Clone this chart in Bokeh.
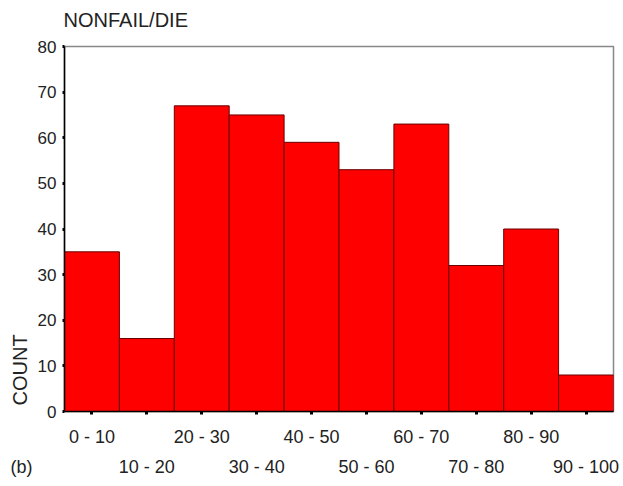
from bokeh.plotting import figure
from bokeh.models import FixedTicker, LinearAxis, Title, Label, Range1d
from bokeh.embed import file_html
from bokeh.resources import INLINE

categories = ["0 - 10", "10 - 20", "20 - 30", "30 - 40", "40 - 50",
              "50 - 60", "60 - 70", "70 - 80", "80 - 90", "90 - 100"]
lefts = [0, 10, 20, 30, 40, 50, 60, 70, 80, 90]
counts = [35, 16, 67, 65, 59, 53, 63, 32, 40, 8]
y_ticks = [0, 10, 20, 30, 40, 50, 60, 70, 80]

FONT = "Liberation Sans"
TXT = "#222222"

p = figure(width=621, height=484, output_backend="svg", toolbar_location=None,
           x_range=Range1d(0, 100), y_range=Range1d(0, 80),
           min_border_left=64, min_border_right=8, min_border_top=46,
           min_border_bottom=73, x_axis_location=None, y_axis_location=None)
p.xgrid.visible = False
p.ygrid.visible = False
p.outline_line_color = "#888888"
p.outline_line_width = 1.5
p.background_fill_color = "white"
p.border_fill_color = "white"

rights = [l + 10 for l in lefts]
p.quad(left=lefts, right=rights, bottom=0, top=counts,
       fill_color="#ff0000", line_color="#6a0000", line_width=1)

centers = [l + 5 for l in lefts]

# y axis
ya = LinearAxis(ticker=FixedTicker(ticks=y_ticks))
ya.axis_line_color = "black"
ya.axis_line_width = 1.5
ya.major_tick_line_color = "black"
ya.major_tick_line_width = 3
ya.major_tick_out = 2
ya.major_tick_in = 0
ya.minor_tick_line_color = None
ya.major_label_text_font = FONT
ya.major_label_text_font_size = "17px"
ya.major_label_text_color = TXT
ya.major_label_standoff = 6
p.add_layout(ya, "left")

# x axis row 1
xa1 = LinearAxis(ticker=FixedTicker(ticks=centers))
xa1.major_label_overrides = {c: (categories[i] if i % 2 == 0 else "") for i, c in enumerate(centers)}
xa1.axis_line_color = "black"
xa1.axis_line_width = 1.5
xa1.major_tick_line_color = "black"
xa1.major_tick_line_width = 3
xa1.major_tick_out = 3
xa1.major_tick_in = 0
xa1.minor_tick_line_color = None
xa1.major_label_text_font = FONT
xa1.major_label_text_font_size = "18px"
xa1.major_label_text_color = TXT
xa1.major_label_standoff = 12
p.add_layout(xa1, "below")

# x axis row 2
xa2 = LinearAxis(ticker=FixedTicker(ticks=centers))
xa2.major_label_overrides = {c: (categories[i] if i % 2 == 1 else "") for i, c in enumerate(centers)}
xa2.axis_line_color = None
xa2.major_tick_line_color = None
xa2.minor_tick_line_color = None
xa2.major_label_text_font = FONT
xa2.major_label_text_font_size = "18px"
xa2.major_label_text_color = TXT
xa2.major_label_standoff = 1
p.add_layout(xa2, "below")

# panel label nearest the frame: its box bottom is the frame top
p.add_layout(Label(x=-54, y=-420, x_units="screen", y_units="screen", text="(b)",
                   text_font=FONT, text_font_size="18px", text_color=TXT,
                   text_baseline="middle", text_align="left"), "above")
p.add_layout(Label(x=-1, y=7, x_units="screen", y_units="screen", text="NONFAIL/DIE",
                   text_font=FONT, text_font_size="20px", text_color=TXT,
                   text_baseline="middle", text_align="left"), "above")
p.add_layout(Title(text="COUNT", align="left", offset=6, standoff=7,
                   text_font=FONT, text_font_size="20px", text_font_style="normal",
                   text_color=TXT), "left")

open("out.html", "w").write(file_html(p, INLINE))
